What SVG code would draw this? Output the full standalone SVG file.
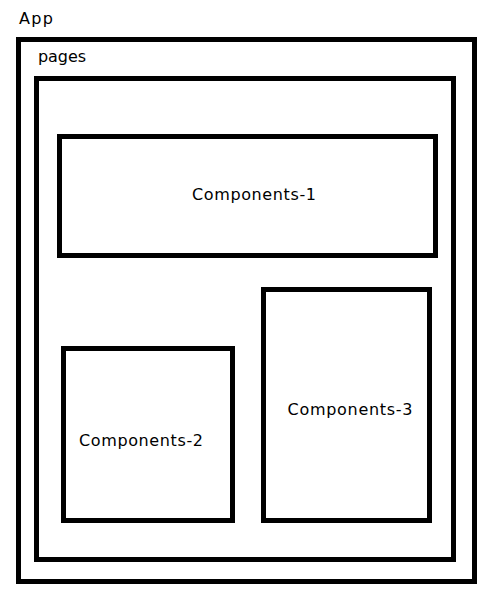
<svg xmlns="http://www.w3.org/2000/svg" width="503" height="605" viewBox="0 0 503 605">
  <style>
    .box { fill: none; stroke: #000; stroke-width: 5; }
    .label { font-family: "DejaVu Sans", "Noto Sans", "Liberation Sans", sans-serif; font-size: 16px; fill: #000; }
  </style>
  <rect width="503" height="605" fill="#fff"/>

  <g id="app">
    <rect class="box" x="18.5" y="39.5" width="456" height="542"/>
    <text class="label" x="19" y="24" textLength="34" lengthAdjust="spacing">App</text>
  </g>

  <g id="pages">
    <rect class="box" x="36.5" y="78.5" width="417" height="481"/>
    <text class="label" x="38" y="62" textLength="48" lengthAdjust="spacing">pages</text>
  </g>

  <g id="components-1">
    <rect class="box" x="59.5" y="136.5" width="376" height="119"/>
    <text class="label" x="192" y="200" textLength="124" lengthAdjust="spacing">Components-1</text>
  </g>

  <g id="components-2">
    <rect class="box" x="63.5" y="348.5" width="169" height="172"/>
    <text class="label" x="79" y="446" textLength="124" lengthAdjust="spacing">Components-2</text>
  </g>

  <g id="components-3">
    <rect class="box" x="263.5" y="289.5" width="166" height="231"/>
    <text class="label" x="287.5" y="415" textLength="125" lengthAdjust="spacing">Components-3</text>
  </g>

  <g id="connectors"></g>
</svg>
